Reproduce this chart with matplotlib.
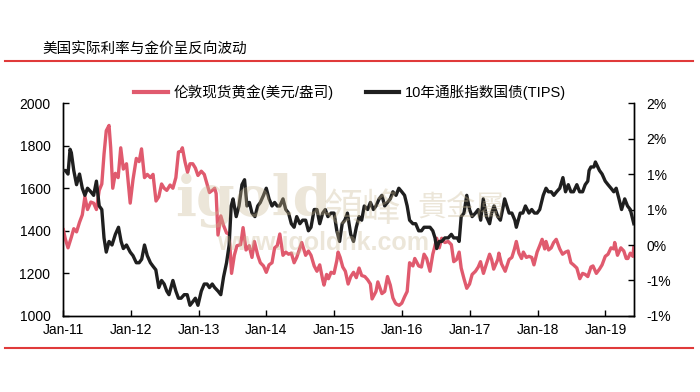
import matplotlib
matplotlib.use("Agg")
import matplotlib.pyplot as plt
import matplotlib.dates as mdates
from matplotlib.lines import Line2D
import pandas as pd

plt.rcParams['font.family'] = ['Liberation Sans', 'Noto Sans CJK SC', 'DejaVu Sans']

title = "美国实际利率与金价呈反向波动"
gold_label = "伦敦现货黄金(美元/盎司)"
tips_label = "10年通胀指数国债(TIPS)"

# gold spot, USD/oz (~2 points a month)
gold_dates = [
    "2011-01-03", "2011-01-14", "2011-01-28", "2011-02-15", "2011-02-28", "2011-03-15", "2011-03-31",
    "2011-04-15", "2011-04-29", "2011-05-13", "2011-05-31", "2011-06-15", "2011-06-30", "2011-07-15",
    "2011-07-29", "2011-08-10", "2011-08-22", "2011-09-06", "2011-09-15", "2011-09-26", "2011-10-10",
    "2011-10-25", "2011-11-08", "2011-11-22", "2011-12-09", "2011-12-29",
    "2012-01-13", "2012-01-31", "2012-02-15", "2012-02-28", "2012-03-15", "2012-03-30", "2012-04-16",
    "2012-04-30", "2012-05-16", "2012-05-31", "2012-06-15", "2012-06-29", "2012-07-13", "2012-07-31",
    "2012-08-15", "2012-08-31", "2012-09-14", "2012-09-28", "2012-10-05", "2012-10-19", "2012-11-02",
    "2012-11-15", "2012-11-30", "2012-12-14", "2012-12-28",
    "2013-01-15", "2013-01-31", "2013-02-15", "2013-02-28", "2013-03-15", "2013-03-28", "2013-04-05",
    "2013-04-15", "2013-04-30", "2013-05-15", "2013-05-31", "2013-06-14", "2013-06-27", "2013-07-12",
    "2013-07-26", "2013-08-15", "2013-08-28", "2013-09-13", "2013-09-30", "2013-10-15", "2013-10-28",
    "2013-11-15", "2013-11-29", "2013-12-16", "2013-12-31",
    "2014-01-15", "2014-01-31", "2014-02-14", "2014-02-28", "2014-03-14", "2014-03-31", "2014-04-15",
    "2014-04-30", "2014-05-15", "2014-05-30", "2014-06-13", "2014-06-30", "2014-07-10", "2014-07-31",
    "2014-08-15", "2014-08-29", "2014-09-15", "2014-09-30", "2014-10-15", "2014-10-31", "2014-11-07",
    "2014-11-21", "2014-12-01", "2014-12-15", "2014-12-31",
    "2015-01-15", "2015-01-22", "2015-02-02", "2015-02-16", "2015-03-02", "2015-03-17", "2015-03-31",
    "2015-04-15", "2015-04-30", "2015-05-15", "2015-05-29", "2015-06-15", "2015-06-30", "2015-07-15",
    "2015-07-24", "2015-08-14", "2015-08-24", "2015-09-15", "2015-09-30", "2015-10-15", "2015-10-30",
    "2015-11-13", "2015-11-27", "2015-12-03", "2015-12-17", "2015-12-31",
    "2016-01-15", "2016-01-29", "2016-02-11", "2016-02-29", "2016-03-10", "2016-03-31", "2016-04-15",
    "2016-04-29", "2016-05-13", "2016-05-31", "2016-06-15", "2016-06-24", "2016-07-06", "2016-07-20",
    "2016-08-02", "2016-08-19", "2016-09-06", "2016-09-23", "2016-10-06", "2016-10-21", "2016-11-04",
    "2016-11-15", "2016-11-30", "2016-12-15", "2016-12-30",
    "2017-01-13", "2017-01-31", "2017-02-15", "2017-02-27", "2017-03-15", "2017-03-31", "2017-04-17",
    "2017-04-28", "2017-05-09", "2017-05-31", "2017-06-06", "2017-06-20", "2017-07-10", "2017-07-31",
    "2017-08-15", "2017-08-29", "2017-09-08", "2017-09-22", "2017-10-06", "2017-10-16", "2017-11-01",
    "2017-11-15", "2017-11-30", "2017-12-12", "2017-12-29",
    "2018-01-12", "2018-01-25", "2018-02-08", "2018-02-15", "2018-03-01", "2018-03-15", "2018-03-28",
    "2018-04-11", "2018-04-30", "2018-05-15", "2018-05-31", "2018-06-14", "2018-06-29", "2018-07-13",
    "2018-07-31", "2018-08-16", "2018-08-31", "2018-09-14", "2018-09-28", "2018-10-15", "2018-10-26",
    "2018-11-13", "2018-11-30", "2018-12-14", "2018-12-31",
    "2019-01-15", "2019-01-31", "2019-02-15", "2019-02-20", "2019-03-07", "2019-03-25", "2019-04-10",
    "2019-04-23", "2019-05-02", "2019-05-15", "2019-05-29", "2019-06-03",
]
gold_price = [
    1405, 1360, 1320, 1370, 1410, 1395, 1440, 1475, 1560, 1500, 1535, 1530, 1500, 1590,
    1620, 1760, 1870, 1895, 1790, 1600, 1670, 1650, 1790, 1690, 1715, 1530,
    1640, 1740, 1725, 1785, 1650, 1665, 1650, 1665, 1540, 1560, 1620, 1600, 1590, 1615,
    1600, 1650, 1770, 1775, 1790, 1725, 1675, 1715, 1715, 1695, 1660,
    1680, 1665, 1620, 1580, 1590, 1600, 1575, 1380, 1470, 1425, 1390, 1385, 1200, 1285,
    1330, 1335, 1415, 1310, 1330, 1275, 1350, 1285, 1250, 1235, 1205,
    1240, 1250, 1320, 1330, 1385, 1285, 1300, 1290, 1295, 1250, 1275, 1320, 1345, 1285,
    1305, 1285, 1235, 1210, 1240, 1170, 1145, 1195, 1175, 1205, 1200,
    1260, 1300, 1275, 1230, 1210, 1150, 1185, 1205, 1180, 1225, 1190, 1185, 1170, 1150,
    1080, 1115, 1160, 1105, 1115, 1185, 1145, 1085, 1060, 1055, 1050, 1060,
    1090, 1115, 1250, 1235, 1270, 1235, 1230, 1290, 1270, 1210, 1290, 1320, 1365, 1320,
    1365, 1345, 1350, 1335, 1255, 1265, 1300, 1225, 1175, 1130, 1150,
    1195, 1210, 1230, 1255, 1200, 1245, 1290, 1265, 1220, 1265, 1295, 1245, 1210, 1265,
    1275, 1315, 1350, 1295, 1270, 1300, 1275, 1280, 1275, 1240, 1300,
    1330, 1360, 1315, 1350, 1310, 1320, 1345, 1360, 1315, 1290, 1300, 1305, 1250, 1240,
    1225, 1175, 1200, 1195, 1185, 1230, 1235, 1200, 1220, 1240, 1280,
    1290, 1320, 1315, 1345, 1285, 1320, 1305, 1270, 1270, 1295, 1280, 1325,
]

# 10y TIPS real yield, %
tips_dates = [
    "2011-01-03", "2011-01-14", "2011-01-28", "2011-02-08", "2011-02-15", "2011-02-28", "2011-03-15",
    "2011-03-31", "2011-04-15", "2011-04-29", "2011-05-13", "2011-05-31", "2011-06-15", "2011-06-30",
    "2011-07-15", "2011-07-29", "2011-08-10", "2011-08-22", "2011-09-06", "2011-09-22", "2011-10-10",
    "2011-10-27", "2011-11-10", "2011-11-22", "2011-12-09", "2011-12-29",
    "2012-01-13", "2012-01-31", "2012-02-15", "2012-02-29", "2012-03-15", "2012-03-30", "2012-04-16",
    "2012-04-30", "2012-05-15", "2012-05-31", "2012-06-15", "2012-06-29", "2012-07-13", "2012-07-25",
    "2012-08-15", "2012-08-31", "2012-09-14", "2012-09-28", "2012-10-15", "2012-10-31", "2012-11-15",
    "2012-11-30", "2012-12-14", "2012-12-28",
    "2013-01-15", "2013-01-31", "2013-02-15", "2013-02-28", "2013-03-15", "2013-03-28", "2013-04-15",
    "2013-04-30", "2013-05-15", "2013-05-31", "2013-06-14", "2013-06-25", "2013-07-05", "2013-07-22",
    "2013-08-06", "2013-08-22", "2013-09-05", "2013-09-18", "2013-10-01", "2013-10-15", "2013-10-31",
    "2013-11-15", "2013-11-29", "2013-12-16", "2013-12-31",
    "2014-01-15", "2014-01-31", "2014-02-14", "2014-02-28", "2014-03-14", "2014-03-31", "2014-04-15",
    "2014-04-30", "2014-05-15", "2014-05-30", "2014-06-13", "2014-06-30", "2014-07-15", "2014-07-31",
    "2014-08-15", "2014-08-29", "2014-09-15", "2014-09-30", "2014-10-15", "2014-10-31", "2014-11-14",
    "2014-11-28", "2014-12-15", "2014-12-31",
    "2015-01-15", "2015-01-30", "2015-02-13", "2015-02-27", "2015-03-13", "2015-03-31", "2015-04-15",
    "2015-04-30", "2015-05-15", "2015-05-29", "2015-06-12", "2015-06-30", "2015-07-15", "2015-07-31",
    "2015-08-14", "2015-08-31", "2015-09-15", "2015-09-30", "2015-10-15", "2015-10-30", "2015-11-13",
    "2015-11-30", "2015-12-15", "2015-12-31",
    "2016-01-15", "2016-01-29", "2016-02-11", "2016-02-29", "2016-03-15", "2016-03-31", "2016-04-15",
    "2016-04-29", "2016-05-13", "2016-05-31", "2016-06-15", "2016-06-27", "2016-07-06", "2016-07-20",
    "2016-08-02", "2016-08-19", "2016-09-06", "2016-09-23", "2016-10-06", "2016-10-25", "2016-11-04",
    "2016-11-15", "2016-11-30", "2016-12-15", "2016-12-30",
    "2017-01-13", "2017-01-31", "2017-02-15", "2017-02-28", "2017-03-14", "2017-03-31", "2017-04-17",
    "2017-04-28", "2017-05-11", "2017-05-31", "2017-06-14", "2017-06-30", "2017-07-07", "2017-07-31",
    "2017-08-15", "2017-08-31", "2017-09-08", "2017-09-29", "2017-10-13", "2017-10-27", "2017-11-15",
    "2017-11-30", "2017-12-15", "2017-12-29",
    "2018-01-12", "2018-01-31", "2018-02-15", "2018-02-28", "2018-03-15", "2018-03-29", "2018-04-13",
    "2018-04-30", "2018-05-17", "2018-05-31", "2018-06-15", "2018-06-29", "2018-07-13", "2018-07-31",
    "2018-08-15", "2018-08-31", "2018-09-14", "2018-09-28", "2018-10-05", "2018-10-15", "2018-10-31",
    "2018-11-08", "2018-11-30", "2018-12-14", "2018-12-31",
    "2019-01-15", "2019-01-31", "2019-02-15", "2019-02-28", "2019-03-15", "2019-03-29", "2019-04-15",
    "2019-04-30", "2019-05-15", "2019-05-29", "2019-06-03",
]
tips_yield = [
    1.05, 1.05, 1.00, 1.35, 1.30, 1.05, 0.85, 1.00, 0.80, 0.70, 0.80, 0.75, 0.70, 0.90,
    0.55, 0.50, 0.10, -0.10, 0.05, 0.00, 0.15, 0.25, 0.05, -0.05, 0.00, -0.10,
    -0.15, -0.25, -0.25, -0.20, 0.00, -0.15, -0.25, -0.30, -0.35, -0.60, -0.50, -0.55, -0.65, -0.70,
    -0.50, -0.65, -0.75, -0.75, -0.70, -0.70, -0.85, -0.80, -0.75, -0.85,
    -0.65, -0.55, -0.55, -0.60, -0.55, -0.60, -0.65, -0.70, -0.45, -0.25, 0.00, 0.55, 0.65, 0.40,
    0.55, 0.85, 0.92, 0.55, 0.60, 0.45, 0.40, 0.55, 0.60, 0.70, 0.80,
    0.65, 0.55, 0.60, 0.55, 0.55, 0.65, 0.50, 0.45, 0.30, 0.25, 0.40, 0.30, 0.35, 0.35,
    0.20, 0.25, 0.50, 0.50, 0.30, 0.45, 0.50, 0.40, 0.45, 0.45,
    0.20, 0.05, 0.30, 0.35, 0.45, 0.15, 0.05, 0.25, 0.40, 0.35, 0.55, 0.50, 0.60, 0.50,
    0.55, 0.65, 0.70, 0.55, 0.60, 0.65, 0.75, 0.70, 0.80, 0.75,
    0.70, 0.55, 0.35, 0.30, 0.30, 0.20, 0.20, 0.25, 0.25, 0.25, 0.20, 0.10, -0.05, 0.05,
    0.05, 0.10, 0.10, 0.15, 0.10, 0.10, 0.05, 0.40, 0.45, 0.70, 0.50,
    0.40, 0.45, 0.50, 0.35, 0.65, 0.40, 0.30, 0.45, 0.55, 0.40, 0.35, 0.55, 0.65, 0.45,
    0.45, 0.35, 0.25, 0.45, 0.45, 0.55, 0.45, 0.50, 0.45, 0.45,
    0.50, 0.70, 0.80, 0.75, 0.75, 0.70, 0.75, 0.80, 0.95, 0.75, 0.85, 0.75, 0.75, 0.85,
    0.75, 0.75, 0.85, 0.90, 1.05, 1.10, 1.10, 1.17, 1.05, 1.00, 0.90,
    0.85, 0.80, 0.75, 0.80, 0.65, 0.50, 0.65, 0.55, 0.50, 0.35, 0.30,
]

left_ticks = [1000, 1200, 1400, 1600, 1800, 2000]
right_ticks = [-1.0, -0.5, 0.0, 0.5, 1.0, 1.5, 2.0]
right_labels = ["-1%", "-1%", "0%", "1%", "1%", "2%", "2%"]
year_ticks = ["2011", "2012", "2013", "2014", "2015", "2016", "2017", "2018", "2019"]

pink = "#E05A6E"
dark = "#1F1F1F"
red = "#E03A3A"

fig = plt.figure(figsize=(7, 3.92), dpi=100)
ax = fig.add_axes([0.09, 0.194, 0.816, 0.543])
ax2 = ax.twinx()

g = pd.Series(gold_price, index=pd.to_datetime(gold_dates))
t = pd.Series(tips_yield, index=pd.to_datetime(tips_dates))

ax.plot(g.index, g.values, color=pink, lw=2.4, zorder=3)
ax2.plot(t.index, t.values, color=dark, lw=2.4, zorder=3)

ax.set_ylim(1000, 2000)
ax.set_yticks(left_ticks)
ax2.set_ylim(-1, 2)
ax2.set_yticks(right_ticks)
ax2.set_yticklabels(right_labels)

ax.set_xlim(pd.Timestamp("2011-01-01"), pd.Timestamp("2019-06-05"))
ax.set_xticks(pd.to_datetime([y + "-01-01" for y in year_ticks]))
ax.xaxis.set_major_formatter(mdates.DateFormatter("Jan-%y"))

for a in (ax, ax2):
    a.spines['top'].set_visible(False)
    for s in ('left', 'right', 'bottom'):
        a.spines[s].set_linewidth(1.0)
    a.tick_params(direction='in', length=4, width=1, labelsize=10, colors='black')
ax.tick_params(axis='y', pad=9)
ax2.tick_params(axis='y', pad=9)
ax.tick_params(axis='x', pad=5)

# watermark
wm = "#C9B994"
fig.text(0.25, 0.45, "igold", fontsize=40, family="DejaVu Serif", weight="bold",
         color=wm, alpha=0.35, zorder=5)
fig.text(0.463, 0.435, "領峰", fontsize=28, family="Noto Sans CJK TC",
         color=wm, alpha=0.35, zorder=5)
fig.text(0.597, 0.45, "貴金屬", fontsize=21, family="Noto Sans CJK TC",
         color=wm, alpha=0.35, zorder=5)
fig.text(0.31, 0.362, "www.igoldhk.com", fontsize=18, weight="bold",
         color=wm, alpha=0.35, zorder=5)

fig.text(0.06, 0.865, title, fontsize=10.5)
fig.add_artist(Line2D([0.007, 0.99], [0.845, 0.845], color=red, lw=1.5))
fig.add_artist(Line2D([0.007, 0.99], [0.112, 0.112], color=red, lw=1.5))

handles = [Line2D([], [], color=pink, lw=3), Line2D([], [], color=dark, lw=3)]
fig.legend(handles, [gold_label, tips_label], loc='center', ncol=2,
           bbox_to_anchor=(0.50, 0.765), frameon=False, fontsize=10.5,
           handlelength=2.3, columnspacing=2.2, handletextpad=0.4)

fig.savefig("out.png", dpi=100)
